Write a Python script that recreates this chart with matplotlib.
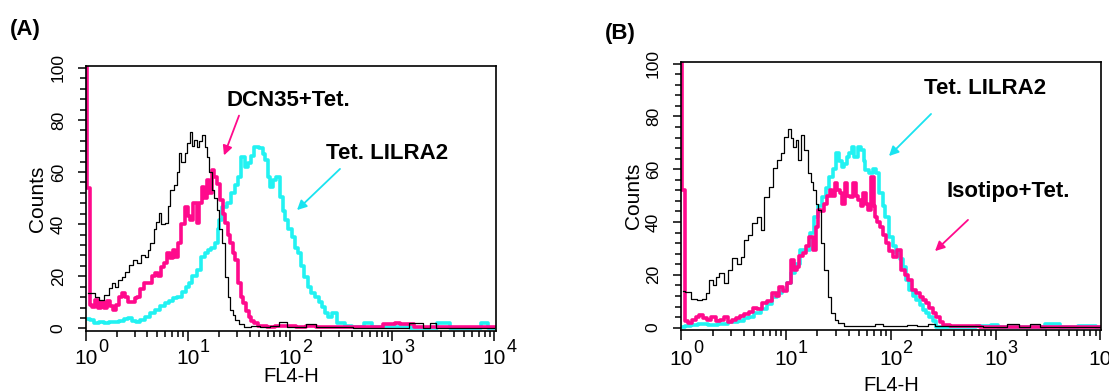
import matplotlib
matplotlib.use("Agg")
import matplotlib.pyplot as plt
import matplotlib.transforms as mtransforms
from matplotlib.ticker import MultipleLocator, LogLocator, NullFormatter
import numpy as np

plt.rcParams['font.family'] = ['Liberation Sans', 'DejaVu Sans']

# canaux en decades (log10 de FL4-H) et comptes
a_noir_d = [0.02, 0.07, 0.11, 0.153, 0.2, 0.24, 0.267, 0.3, 0.33, 0.365, 0.40, 0.44, 0.479, 0.52, 0.56,
            0.593, 0.62, 0.642, 0.68, 0.70, 0.723, 0.75, 0.789, 0.81, 0.838, 0.887, 0.90, 0.919, 0.95,
            0.984, 1.0, 1.033, 1.05, 1.066, 1.098, 1.12, 1.147, 1.18, 1.196, 1.22, 1.245, 1.27, 1.293,
            1.32, 1.342, 1.375, 1.40, 1.424, 1.45, 1.473, 1.52, 1.57, 1.65, 1.75, 1.85, 1.93, 2.0, 2.1,
            2.2, 2.3, 2.5, 2.7, 3.0, 3.28, 3.32, 3.41, 3.45, 3.7, 4.0]
a_noir_v = [13.5, 13.4, 12, 10.9, 13, 15.5, 17.3, 16, 18.5, 19.8, 21.5, 24.5, 26.2, 25, 28,
            27.5, 30, 32.6, 38, 41, 44.1, 40, 40.3, 47, 53.1, 55, 60, 67.2, 64,
            67.2, 71, 75.4, 70, 72.3, 69.7, 72, 74.2, 69.7, 65.9, 60, 53.1, 50, 45.4,
            38, 32.6, 19.8, 12, 7.0, 5, 3.2, 1.8, 0.6, 0.8, 0.5, 1.0, 2.5, 0.5, 0.5,
            1.5, 0.5, 0.5, 0.3, 0.3, 2.0, 0.3, 2.0, 0.3, 0.3, 0.3]

a_rose_d = [0.0, 0.025, 0.05, 0.07, 0.10, 0.13, 0.16, 0.19, 0.22, 0.25, 0.28, 0.31, 0.34, 0.365, 0.40,
            0.43, 0.46, 0.49, 0.51, 0.55, 0.593, 0.63, 0.66, 0.69, 0.72, 0.756, 0.78, 0.805, 0.84,
            0.865, 0.887, 0.919, 0.95, 0.984, 1.01, 1.033, 1.066, 1.098, 1.12, 1.147, 1.17, 1.196,
            1.22, 1.245, 1.27, 1.293, 1.326, 1.35, 1.375, 1.40, 1.424, 1.45, 1.473, 1.505, 1.53,
            1.554, 1.58, 1.603, 1.63, 1.668, 1.7, 1.75, 1.8, 1.9, 2.0, 2.1, 2.2, 2.3, 2.5, 2.7, 2.8,
            3.0, 3.05, 3.1, 3.17, 3.25, 3.5, 3.8, 4.0]
a_rose_v = [140, 54, 9, 8.3, 11, 8, 10, 8, 10.5, 8.5, 7, 9, 12, 13.4, 12,
            10.2, 10, 11.5, 12.1, 15, 17.3, 17.5, 20, 21.1, 20, 23.6, 25, 28.8, 27,
            30, 27.5, 32.6, 40, 46.7, 43, 41.6, 48, 40.3, 48, 54.3, 50, 56.9,
            52, 60.7, 58, 55.6, 49.2, 44, 40.3, 36, 32.6, 29, 26.2, 17.3, 12,
            9.6, 6.5, 4.5, 2.8, 1.9, 1.0, 1.0, 0.5, 1.0, 1.0, 0.5, 1.0, 0.5, 0.5, 0.5, 0.5,
            1.5, 2.0, 1.5, 1.5, 0.5, 0.5, 0.5, 0.5]

a_cyan_d = [0.02, 0.06, 0.10, 0.15, 0.20, 0.25, 0.30, 0.35, 0.40, 0.43, 0.47, 0.50, 0.55, 0.60, 0.658,
            0.70, 0.75, 0.789, 0.83, 0.87, 0.919, 0.96, 1.0, 1.017, 1.06, 1.114, 1.14, 1.18, 1.212,
            1.245, 1.277, 1.30, 1.31, 1.359, 1.40, 1.44, 1.47, 1.505, 1.538, 1.57, 1.603, 1.63,
            1.668, 1.717, 1.74, 1.766, 1.79, 1.815, 1.85, 1.88, 1.913, 1.94, 1.962, 2.0, 2.026,
            2.06, 2.092, 2.12, 2.157, 2.19, 2.222, 2.27, 2.30, 2.32, 2.36, 2.385, 2.434, 2.483,
            2.515, 2.55, 2.65, 2.776, 2.82, 3.0, 3.3, 3.54, 3.58, 3.8, 3.92, 3.96, 4.0]
a_cyan_v = [3.5, 3.2, 2.0, 2.5, 2.0, 2.5, 2.5, 3.0, 3.5, 3.8, 2.8, 2.5, 3.2, 4.5, 5.8,
            7, 8.5, 9.6, 10.5, 11.5, 12.1, 14, 16, 17.3, 20, 22.4, 27.5, 28.8, 30,
            31, 32.6, 38, 41.6, 46.7, 48, 51.8, 55, 58.2, 65.9, 62, 63.3, 66,
            69.7, 69.1, 67, 64.6, 58, 54.3, 57, 58.2, 50.5, 45, 41.6, 38, 35.1,
            31, 28.8, 24, 19.8, 16, 13.4, 12.1, 10, 8.3, 6, 4.5, 5.8, 1.9,
            2.0, 0.8, 0.5, 2.0, 0.5, 0.5, 0.3, 2.0, 0.3, 0.3, 2.0, 0.3, 0.3]

b_noir_d = [0.02, 0.063, 0.12, 0.175, 0.22, 0.254, 0.286, 0.32, 0.35, 0.382, 0.429, 0.46, 0.509, 0.55,
            0.588, 0.62, 0.66, 0.7, 0.74, 0.779, 0.811, 0.859, 0.89, 0.938, 0.97, 1.002, 1.033, 1.06,
            1.081, 1.11, 1.129, 1.16, 1.193, 1.224, 1.25, 1.272, 1.30, 1.32, 1.351, 1.383, 1.415,
            1.447, 1.48, 1.51, 1.6, 1.8, 1.9, 1.95, 2.1, 2.2, 2.3, 2.4, 2.45, 2.7, 3.0, 3.2, 3.25,
            3.4, 3.45, 4.0]
b_noir_v = [14, 13.6, 11, 10.5, 11, 13, 18, 16, 19, 20.6, 16.8, 22, 26.2, 24,
            26.9, 33.2, 35, 39.5, 42, 37, 49.5, 53.3, 60.3, 63.4, 66, 72.2, 75.4, 72,
            68.5, 71, 63.4, 72.9, 67.2, 58.4, 55, 52.1, 47, 44.5, 31.9, 21.8, 11.7,
            5.4, 3, 1.7, 0.8, 0.5, 1.5, 0.5, 0.5, 1.0, 0.5, 1.5, 0.5, 0.5, 0.3, 1.5, 0.3,
            1.5, 0.3, 0.3]

b_rose_d = [0.0, 0.025, 0.05, 0.08, 0.12, 0.16, 0.19, 0.23, 0.27, 0.31, 0.35, 0.39, 0.43, 0.47, 0.51,
            0.54, 0.58, 0.62, 0.668, 0.70, 0.74, 0.795, 0.84, 0.89, 0.92, 0.954, 0.99, 1.033, 1.065,
            1.09, 1.113, 1.14, 1.177, 1.21, 1.24, 1.272, 1.30, 1.32, 1.35, 1.383, 1.41, 1.431, 1.455,
            1.479, 1.50, 1.527, 1.55, 1.574, 1.60, 1.622, 1.654, 1.68, 1.702, 1.725, 1.749, 1.77,
            1.797, 1.828, 1.845, 1.86, 1.885, 1.908, 1.94, 1.972, 2.0, 2.035, 2.083, 2.115, 2.15,
            2.178, 2.226, 2.26, 2.29, 2.32, 2.353, 2.385, 2.417, 2.45, 2.481, 2.52, 2.6, 2.7, 2.8,
            2.9, 3.0, 3.3, 4.0]
b_rose_v = [140, 52, 2.5, 1.7, 3, 4, 4.8, 3.5, 3, 4, 2.5, 3, 4, 2, 3,
            3.6, 4.5, 5, 6, 7.5, 7, 9.2, 10, 13, 12, 15.5, 14, 16.8, 25.6,
            22, 23.1, 27, 28.1, 31, 34.4, 29.4, 38, 44.5, 44, 47, 50, 52.1, 50,
            54.6, 52, 50.8, 47, 54.6, 50, 49.5, 54.6, 50, 48.3, 46, 50.8, 47,
            44.5, 57.1, 46, 42, 40, 38.2, 35, 31.9, 29, 26.9, 29.4, 21.8, 20,
            18, 14.3, 13, 11.7, 10.5, 9.2, 7.5, 5.4, 4, 2.3, 1.0, 0.8, 0.5, 0.5,
            0.3, 0.3, 0.3, 0.3]

b_cyan_d = [0.02, 0.06, 0.12, 0.2, 0.3, 0.4, 0.5, 0.58, 0.62, 0.668, 0.73, 0.795, 0.84, 0.89, 0.94,
            0.986, 1.03, 1.065, 1.11, 1.16, 1.208, 1.25, 1.288, 1.33, 1.367, 1.40, 1.431, 1.46, 1.494,
            1.52, 1.542, 1.566, 1.59, 1.615, 1.638, 1.67, 1.702, 1.733, 1.75, 1.765, 1.813, 1.845,
            1.876, 1.908, 1.935, 1.956, 2.004, 2.035, 2.067, 2.10, 2.131, 2.16, 2.194, 2.226, 2.258,
            2.29, 2.321, 2.353, 2.385, 2.42, 2.449, 2.5, 2.7, 2.9, 3.0, 3.05, 3.3, 3.6, 3.63, 3.9, 4.0]
b_cyan_v = [0.3, 0.5, 1.0, 1.5, 1.0, 1.5, 2.0, 2.5, 3.5, 4.2, 5.5, 7, 9, 11.7, 13,
            14.3, 17, 20.6, 24, 29.4, 29.4, 36, 42, 46, 49.5, 53, 57.1, 60, 66,
            63, 60.9, 62, 64.7, 66, 68.5, 64.7, 68.5, 67.2, 63, 59.6, 58.4, 60,
            58.4, 50.8, 46, 42, 34.4, 31, 28.1, 26, 23.1, 18, 14.3, 12, 10.5,
            8.5, 6.7, 5.5, 4.2, 2.5, 0.4, 0.3, 0.3, 0.5, 1.0, 0.3, 0.3, 1.5, 0.3, 0.5, 0.3]

y_ticks = [0, 20, 40, 60, 80, 100]
decades = [0, 1, 2, 3, 4]

ROSE = '#FF0A8C'
CYAN = '#22F2F2'


def tracerPanneau(ax, noir, rose, cyan, xmax, ymin, ymax, y10, ylab_x):
    # histogrammes en escalier sur un axe log
    ax.plot(10 ** np.array(cyan[0]), cyan[1], drawstyle='steps-mid', color=CYAN, lw=2.6)
    ax.plot(10 ** np.array(rose[0]), rose[1], drawstyle='steps-mid', color=ROSE, lw=2.6)
    ax.plot(10 ** np.array(noir[0]), noir[1], drawstyle='steps-mid', color='black', lw=0.9)
    ax.set_xscale('log')
    ax.set_xlim(1, xmax)
    ax.set_ylim(ymin, ymax)
    for s in ax.spines.values():
        s.set_linewidth(1.2)
    ax.yaxis.set_major_locator(MultipleLocator(20))
    ax.yaxis.set_minor_locator(MultipleLocator(4))
    ax.set_yticks(y_ticks)
    ax.set_yticklabels([str(t) for t in y_ticks], rotation=90, va='center', fontsize=12.5)
    ax.tick_params(axis='y', which='major', direction='out', length=5.5, width=1.1, pad=9)
    ax.tick_params(axis='y', which='minor', direction='out', length=4, width=1.1)
    ax.xaxis.set_major_locator(LogLocator(base=10, numticks=10))
    ax.xaxis.set_minor_locator(LogLocator(base=10, subs=np.arange(2, 10), numticks=20))
    ax.xaxis.set_major_formatter(NullFormatter())
    ax.xaxis.set_minor_formatter(NullFormatter())
    ax.tick_params(axis='x', which='major', direction='out', length=7, width=1.1)
    ax.tick_params(axis='x', which='minor', direction='out', length=4.5, width=1.1)
    # etiquettes 10^k faites a la main pour garder un exposant assez grand
    trans = mtransforms.blended_transform_factory(ax.transData, ax.transAxes)
    for k in decades:
        ax.text(10 ** k, y10, '10', transform=trans, ha='center', va='top', fontsize=15)
        ax.annotate(str(k), xy=(10 ** k, y10), xycoords=trans, xytext=(8.5, 7.5),
                    textcoords='offset points', ha='left', va='top', fontsize=13,
                    annotation_clip=False)
    ax.set_ylabel('Counts', fontsize=15)
    ax.yaxis.set_label_coords(ylab_x, 0.5)
    ax.set_xlabel('FL4-H', fontsize=14.5)


fig = plt.figure(figsize=(11.09, 3.92), dpi=100)
W, H = 1109.0, 392.0

axA = fig.add_axes([86 / W, 1 - 331 / H, 410 / W, 265 / H])
tracerPanneau(axA, (a_noir_d, a_noir_v), (a_rose_d, a_rose_v), (a_cyan_d, a_cyan_v),
              10 ** 4.015, -1.0, 100.7, -0.068, -0.095)
axA.xaxis.set_label_coords(0.5, -0.135)

axB = fig.add_axes([681 / W, 1 - 330 / H, 420 / W, 268 / H])
tracerPanneau(axB, (b_noir_d, b_noir_v), (b_rose_d, b_rose_v), (b_cyan_d, b_cyan_v),
              10 ** 4.005, -0.9, 100.6, -0.075, -0.09)
axB.xaxis.set_label_coords(0.5, -0.17)


def fp(x, y):
    # pixels de l'image -> fraction de la figure
    return (x / W, 1 - y / H)


fig.text(*fp(10, 29), '(A)', fontsize=16, fontweight='bold', va='center', ha='left')
fig.text(*fp(605, 33), '(B)', fontsize=16, fontweight='bold', va='center', ha='left')

fig.text(*fp(226, 100), 'DCN35+Tet.', fontsize=16, fontweight='bold', va='center', ha='left')
fig.text(*fp(326, 154), 'Tet. LILRA2', fontsize=16, fontweight='bold', va='center', ha='left')
fig.text(*fp(924, 88), 'Tet. LILRA2', fontsize=16, fontweight='bold', va='center', ha='left')
fig.text(*fp(947, 192), 'Isotipo+Tet.', fontsize=16, fontweight='bold', va='center', ha='left')

fleches = [((240, 113), (223, 158), ROSE),
           ((342, 167), (295, 212), '#19E3F0'),
           ((933, 112), (887, 158), '#19E3F0'),
           ((970, 218), (933, 253), ROSE)]
for debut, fin, c in fleches:
    fig.add_artist(plt.matplotlib.patches.FancyArrowPatch(
        fp(*debut), fp(*fin), transform=fig.transFigure, arrowstyle='-|>',
        mutation_scale=14, color=c, lw=1.3))

fig.savefig('out.png', dpi=100)
